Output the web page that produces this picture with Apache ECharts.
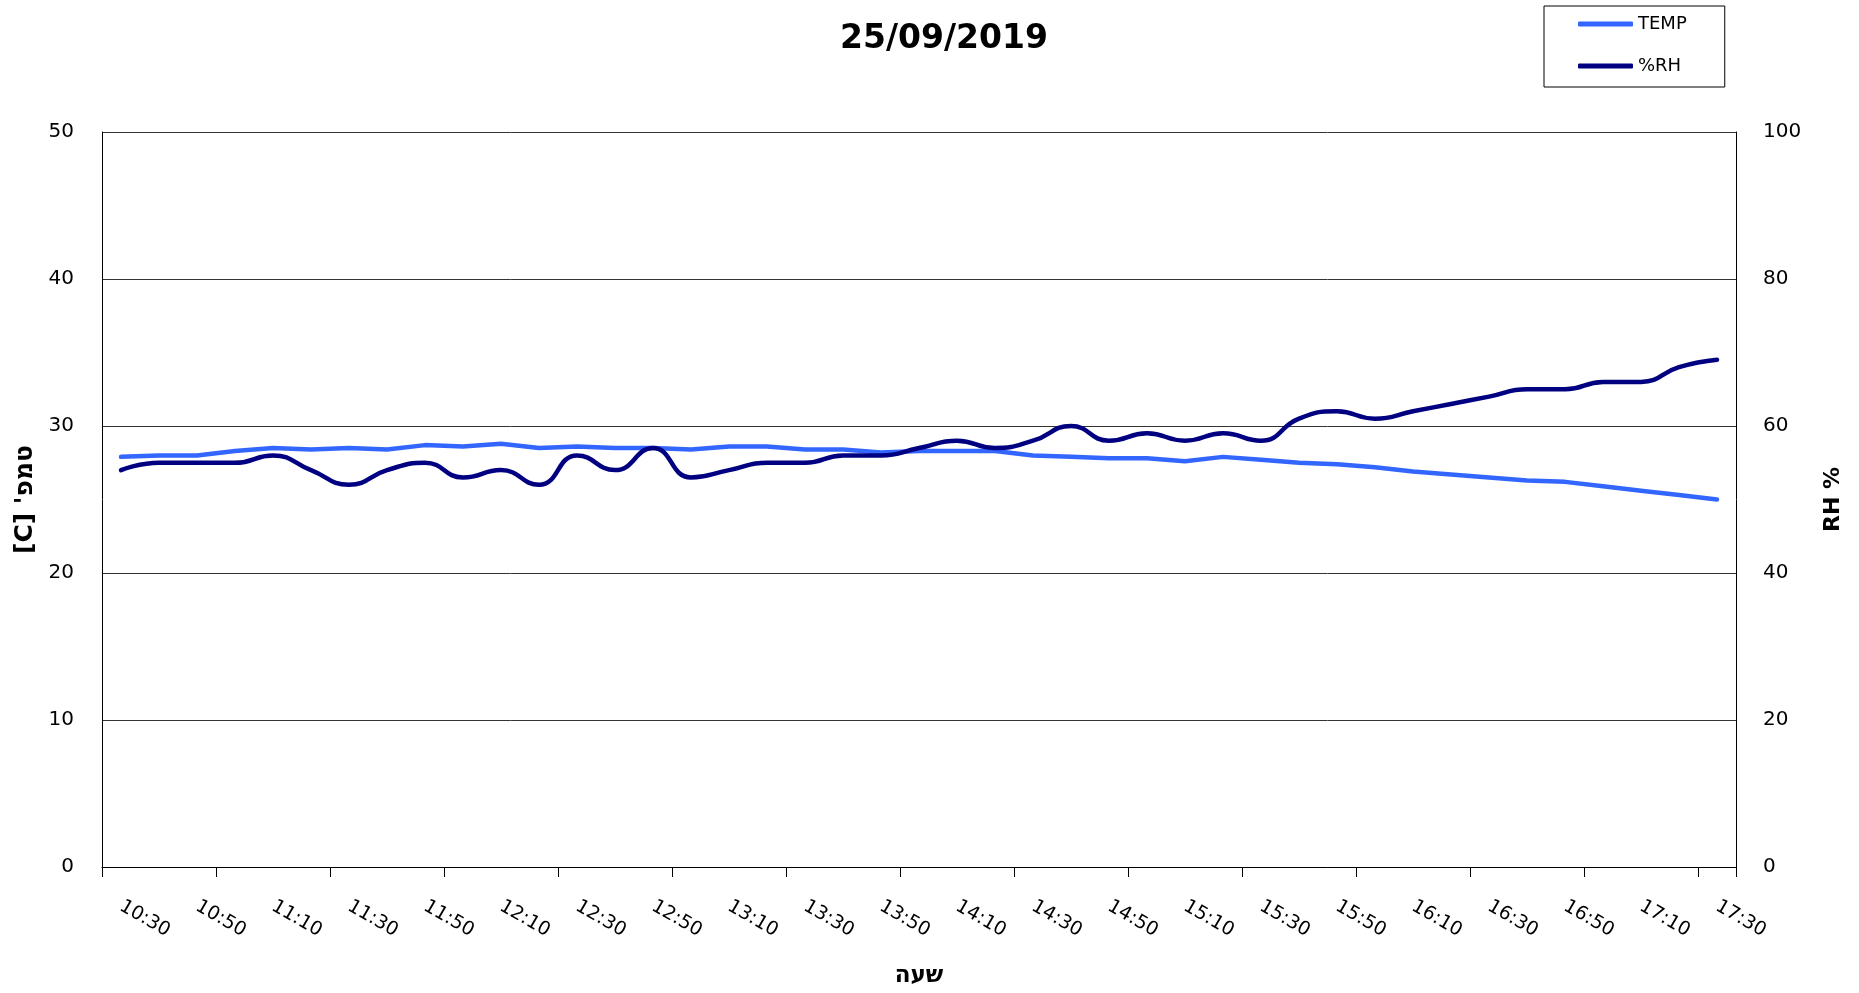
<!DOCTYPE html>
<html>
<head>
<meta charset="utf-8">
<title>25/09/2019</title>
<script src="https://cdn.jsdelivr.net/npm/echarts@6.0.0/dist/echarts.min.js"></script>
<style>
    html, body { margin: 0; padding: 0; background: #fff; }
    #chart { width: 1859px; height: 993px; }
</style>
</head>
<body>
<div id="chart"></div>
<script>
// שעות המדידה - כל 10 דקות
const hours = [
    '10:30', '10:40', '10:50', '11:00', '11:10', '11:20', '11:30', '11:40', '11:50', '12:00',
    '12:10', '12:20', '12:30', '12:40', '12:50', '13:00', '13:10', '13:20', '13:30', '13:40',
    '13:50', '14:00', '14:10', '14:20', '14:30', '14:40', '14:50', '15:00', '15:10', '15:20',
    '15:30', '15:40', '15:50', '16:00', '16:10', '16:20', '16:30', '16:40', '16:50', '17:00',
    '17:10', '17:20', '17:30'
]

// טמפרטורה [C]
const temp = [
    27.9, 28.0, 28.0, 28.3, 28.5, 28.4, 28.5, 28.4, 28.7, 28.6,
    28.8, 28.5, 28.6, 28.5, 28.5, 28.4, 28.6, 28.6, 28.4, 28.4,
    28.2, 28.3, 28.3, 28.3, 28.0, 27.9, 27.8, 27.8, 27.6, 27.9,
    27.7, 27.5, 27.4, 27.2, 26.9, 26.7, 26.5, 26.3, 26.2, 25.9,
    25.6, 25.3, 25.0
]

// לחות יחסית %
const rh = [
    54, 55, 55, 55, 56, 54, 52, 54, 55, 53,
    54, 52, 56, 54, 57, 53, 54, 55, 55, 56,
    56, 57, 58, 57, 58, 60, 58, 59, 58, 59,
    58, 61, 62, 61, 62, 63, 64, 65, 65, 66,
    66, 68, 69
]

const tempTicks = { min: 0, max: 50, interval: 10 }
const rhTicks = { min: 0, max: 100, interval: 20 }

const FONT = '"DejaVu Sans", "Open Sans", sans-serif'
const TEMP_COLOR = '#3366ff'
const RH_COLOR = '#000080'

const myChart = echarts.init(document.getElementById('chart'), null, { renderer: 'canvas' })

const option = {
    animation: false,
    backgroundColor: '#fff',
    textStyle: { fontFamily: FONT, color: '#000' },
    title: {
        text: '25/09/2019',
        left: 939,
        top: 18,
        textAlign: 'center',
        textStyle: { fontFamily: FONT, fontSize: 33, fontWeight: 'bold', color: '#000' },
    },
    legend: {
        orient: 'vertical',
        left: 1544,
        top: 6,
        padding: [8, 38, 11, 34],
        borderColor: '#000',
        borderWidth: 1,
        itemGap: 22,
        itemWidth: 55,
        itemHeight: 5,
        icon: 'roundRect',
        textStyle: { fontFamily: FONT, fontSize: 18, lineHeight: 20, color: '#000' },
        data: ['TEMP', '%RH'],
    },
    grid: { left: 102, right: 123, top: 132, bottom: 121 },
    xAxis: {
        type: 'category',
        data: hours,
        boundaryGap: true,
        name: 'שעה',
        nameLocation: 'middle',
        nameGap: 98,
        nameTextStyle: { fontFamily: FONT, fontSize: 23, fontWeight: 'bold', color: '#000' },
        axisLine: { lineStyle: { color: '#000', width: 1 } },
        axisTick: { show: true, interval: 2, length: 10, lineStyle: { color: '#000' } },
        axisLabel: {
            interval: 1,
            rotate: -30,
            margin: 38,
            fontFamily: FONT,
            fontSize: 19,
            color: '#000',
        },
        splitLine: { show: false },
    },
    yAxis: [
        {
            type: 'value',
            min: tempTicks.min,
            max: tempTicks.max,
            interval: tempTicks.interval,
            name: '\u202Bטמפ\' [C]\u202C',
            nameLocation: 'middle',
            nameRotate: 90,
            nameGap: 59,
            nameTextStyle: { fontFamily: FONT, fontSize: 25, fontWeight: 'bold', color: '#000' },
            axisLine: { show: true, lineStyle: { color: '#000', width: 1 } },
            axisTick: { show: false },
            axisLabel: { margin: 28, fontFamily: FONT, fontSize: 20, color: '#000' },
            splitLine: { show: true, lineStyle: { color: '#333', width: 1 } },
        },
        {
            type: 'value',
            min: rhTicks.min,
            max: rhTicks.max,
            interval: rhTicks.interval,
            name: 'RH %',
            nameLocation: 'middle',
            nameRotate: 90,
            nameGap: 86,
            nameTextStyle: { fontFamily: FONT, fontSize: 22, fontWeight: 'bold', color: '#000' },
            axisLine: { show: true, lineStyle: { color: '#000', width: 1 } },
            axisTick: { show: false },
            axisLabel: { margin: 27, fontFamily: FONT, fontSize: 20, color: '#000' },
            splitLine: { show: false },
        },
    ],
    series: [
        {
            name: 'TEMP',
            type: 'line',
            yAxisIndex: 0,
            data: temp,
            symbol: 'none',
            smooth: false,
            lineStyle: { color: TEMP_COLOR, width: 4.5, cap: 'round', join: 'round' },
            itemStyle: { color: TEMP_COLOR },
            z: 3,
        },
        {
            name: '%RH',
            type: 'line',
            yAxisIndex: 1,
            data: rh,
            symbol: 'none',
            smooth: 0.5,
            lineStyle: { color: RH_COLOR, width: 4.5, cap: 'round', join: 'round' },
            itemStyle: { color: RH_COLOR },
            z: 4,
        },
    ],
}

myChart.setOption(option, true)
</script>
</body>
</html>
